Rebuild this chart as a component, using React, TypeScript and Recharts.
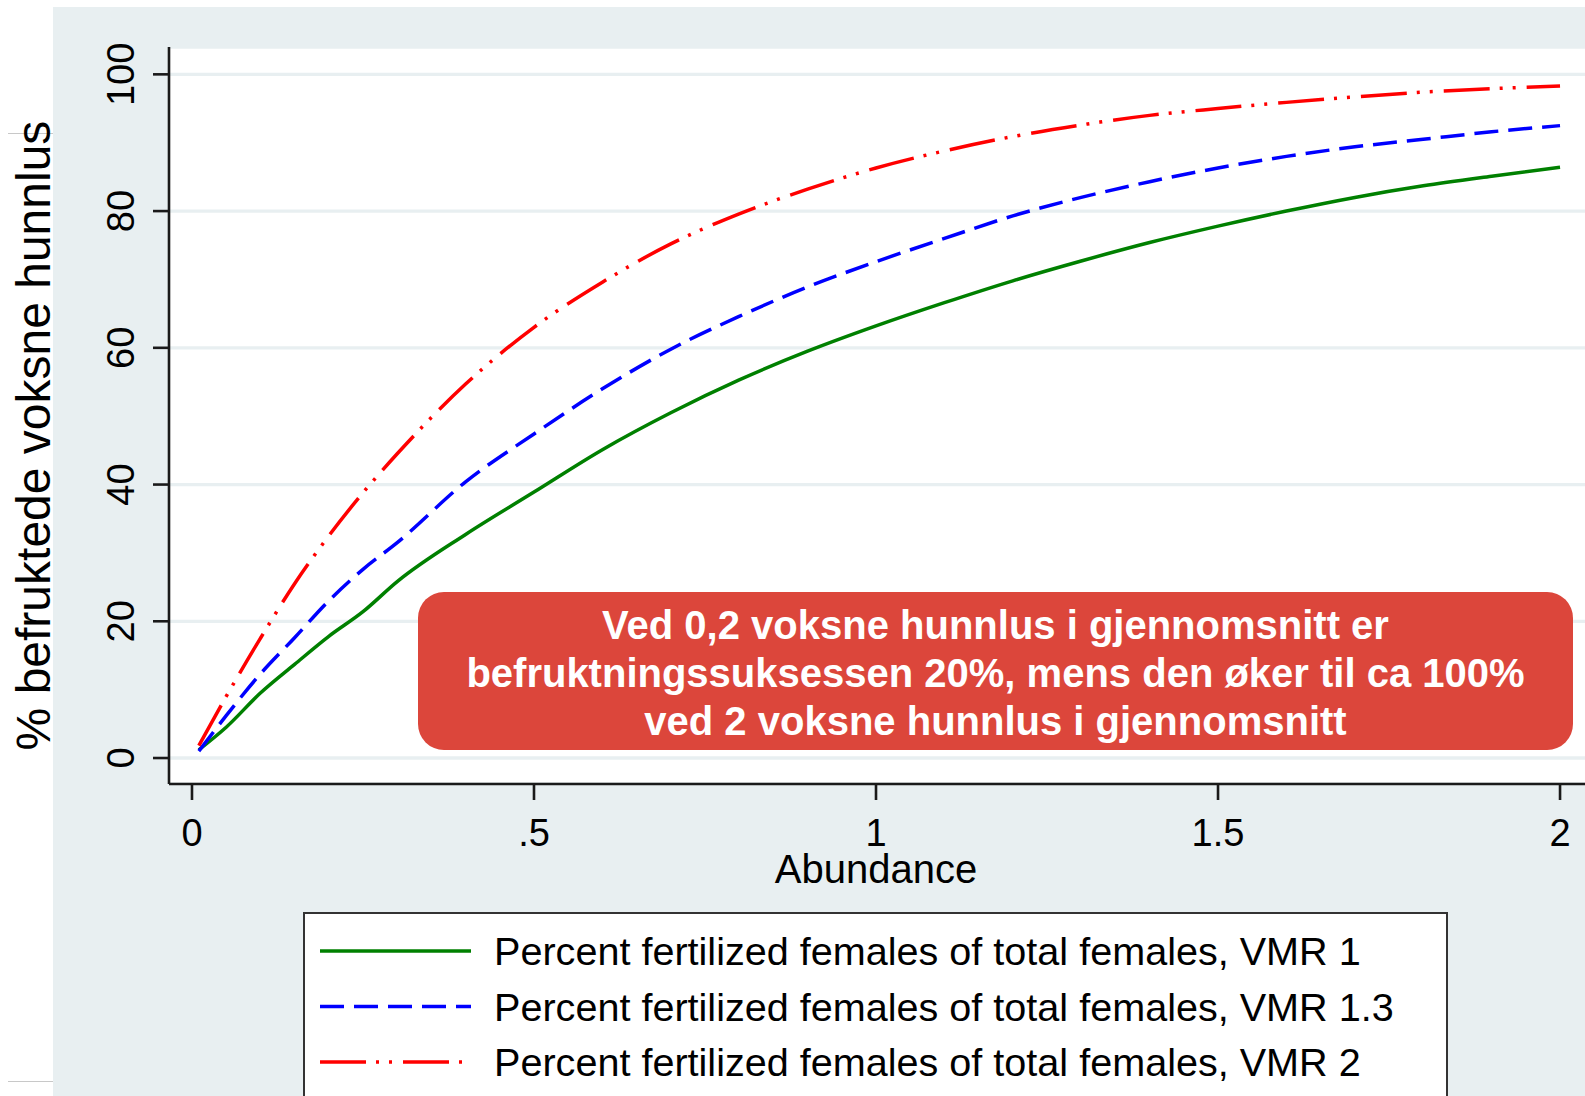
import React from 'react';
import { LineChart, Line, XAxis, YAxis, CartesianGrid, Legend } from 'recharts';

// ---- data ----
const abundance = [0.01, 0.05, 0.1, 0.15, 0.2, 0.25, 0.3, 0.4, 0.5, 0.6, 0.7, 0.8, 0.9, 1.0, 1.1, 1.2, 1.3, 1.4, 1.5, 1.6, 1.7, 1.8, 1.9, 2.0];
const vmr1 = [1.2, 4.5, 9.5, 13.7, 17.8, 21.4, 25.8, 32.7, 38.9, 45.1, 50.5, 55.3, 59.5, 63.2, 66.6, 69.8, 72.7, 75.4, 77.8, 80.0, 82.0, 83.7, 85.1, 86.4];
const vmr13 = [1.0, 6.2, 12.3, 17.6, 23.0, 27.6, 31.5, 40.4, 47.4, 54.0, 59.8, 64.6, 68.9, 72.6, 76.0, 79.3, 82.0, 84.3, 86.3, 88.0, 89.4, 90.5, 91.6, 92.5];
const vmr2 = [1.8, 9.0, 17.5, 25.5, 32.5, 38.8, 44.5, 54.7, 63.0, 69.6, 75.2, 79.6, 83.2, 86.3, 88.8, 90.9, 92.6, 94.0, 95.0, 95.9, 96.7, 97.4, 97.9, 98.3];

const xTicks = [0, 0.5, 1, 1.5, 2];
const xTickLabels = ['0', '.5', '1', '1.5', '2'];
const yTicks = [0, 20, 40, 60, 80, 100];
const yTickLabels = ['0', '20', '40', '60', '80', '100'];

const seriesNames = [
  'Percent fertilized females of total females, VMR 1',
  'Percent fertilized females of total females, VMR 1.3',
  'Percent fertilized females of total females, VMR 2',
];
const xTitle = 'Abundance';
const yTitle = '% befruktede voksne hunnlus';
const noteLines = [
  'Ved 0,2 voksne hunnlus i gjennomsnitt er',
  'befruktningssuksessen 20%, mens den øker til ca 100%',
  'ved 2 voksne hunnlus i gjennomsnitt',
];

const data = abundance.map((a, i) => ({ a, v1: vmr1[i], v13: vmr13[i], v2: vmr2[i] }));

// ---- style ----
const FONT = '"Liberation Sans", Arial, Helvetica, sans-serif';
const BG = '#e8eff1';
const GREEN = '#008000';
const BLUE = '#0000ff';
const RED = '#ff0000';
const SW = 3.5;
const DASH_BLUE = '24 10';
const DASH_RED = '46 10 3 10 3 11';

const styles = [
  { key: 'v1', color: GREEN, dash: undefined as string | undefined },
  { key: 'v13', color: BLUE, dash: DASH_BLUE },
  { key: 'v2', color: RED, dash: DASH_RED },
];

const XTick = (props: any) => {
  const { x, y, payload } = props;
  const idx = xTicks.indexOf(payload.value);
  return (
    <text x={x} y={y + 44} textAnchor="middle" fontFamily={FONT} fontSize={38} fill="#000">
      {idx >= 0 ? xTickLabels[idx] : String(payload.value)}
    </text>
  );
};

const YTick = (props: any) => {
  const { y, payload } = props;
  const idx = yTicks.indexOf(payload.value);
  return (
    <text transform={`translate(134, ${y}) rotate(-90)`} textAnchor="middle" fontFamily={FONT} fontSize={38} fill="#000">
      {idx >= 0 ? yTickLabels[idx] : String(payload.value)}
    </text>
  );
};

const LegendBox = () => (
  <div
    style={{
      width: 1145,
      height: 200,
      boxSizing: 'border-box',
      background: '#fff',
      border: '2px solid #333',
      position: 'relative',
    }}
  >
    <svg width={1145} height={200} style={{ position: 'absolute', left: -2, top: -2 }}>
      {styles.map((s, i) => {
        const cy = 39 + i * 55.5;
        return (
          <g key={s.key}>
            <line x1={17} x2={168} y1={cy} y2={cy} stroke={s.color} strokeWidth={SW} strokeDasharray={s.dash} />
            <text x={191} y={cy + 14} fontFamily={FONT} fontSize={39.6} fill="#000">
              {seriesNames[i]}
            </text>
          </g>
        );
      })}
    </svg>
  </div>
);

export default function App() {
  return (
    <div style={{ position: 'absolute', left: 0, top: 0, width: 1585, height: 1096, overflow: 'hidden', background: '#fff' }}>
      <div style={{ position: 'absolute', left: 53, top: 7, width: 1532, height: 1089, background: BG }} />
      <div style={{ position: 'absolute', left: 8, top: 133, width: 45, height: 1, background: '#c8c8c8' }} />
      <div style={{ position: 'absolute', left: 8, top: 1081, width: 45, height: 1, background: '#c8c8c8' }} />
      <div style={{ position: 'absolute', left: 0, top: 0 }}>
        <LineChart width={1585} height={1096} data={data} margin={{ top: 47, right: 0, bottom: 0, left: 0 }}>
          <CartesianGrid horizontal vertical={false} fill="#fff" stroke={BG} strokeWidth={3.3} />
          <XAxis
            dataKey="a"
            type="number"
            domain={[-0.0336, 2.0365]}
            allowDataOverflow
            ticks={xTicks}
            interval={0}
            height={312}
            tickSize={16}
            axisLine={{ stroke: '#1a1a1a', strokeWidth: 2.6 }}
            tickLine={{ stroke: '#1a1a1a', strokeWidth: 2.6 }}
            tick={<XTick />}
            label={{
              content: (p: any) => {
                const vb = p.viewBox || {};
                return (
                  <text x={876} y={(vb.y ?? 784) + 99} textAnchor="middle" fontFamily={FONT} fontSize={40} fill="#000">
                    {xTitle}
                  </text>
                );
              },
            }}
          />
          <YAxis
            type="number"
            domain={[-3.8, 104.0]}
            allowDataOverflow
            ticks={yTicks}
            interval={0}
            width={169}
            tickSize={16}
            axisLine={{ stroke: '#1a1a1a', strokeWidth: 2.6 }}
            tickLine={{ stroke: '#1a1a1a', strokeWidth: 2.6 }}
            tick={<YTick />}
            label={{
              content: () => (
                <text transform="translate(50, 435.5) rotate(-90)" textAnchor="middle" fontFamily={FONT} fontSize={48} fill="#000">
                  {yTitle}
                </text>
              ),
            }}
          />
          {styles.map((s, i) => (
            <Line
              key={s.key}
              dataKey={s.key}
              name={seriesNames[i]}
              type="monotone"
              stroke={s.color}
              strokeWidth={SW}
              strokeDasharray={s.dash}
              dot={false}
              activeDot={false}
              isAnimationActive={false}
            />
          ))}
          <Legend
            layout="vertical"
            align="center"
            verticalAlign="middle"
            content={<LegendBox />}
            wrapperStyle={{ position: 'absolute', left: 303, top: 912, width: 1145, height: 200 }}
          />
        </LineChart>
      </div>
      <div
        style={{
          position: 'absolute',
          left: 418,
          top: 592,
          width: 1155,
          height: 158,
          background: '#dc463b',
          borderRadius: 26,
          fontFamily: FONT,
          fontWeight: 'bold',
          fontSize: 40,
          color: '#fff',
          textAlign: 'center',
          lineHeight: '48px',
          paddingTop: 9,
          boxSizing: 'border-box',
        }}
      >
        {noteLines.map((l, i) => (
          <div key={i}>{l}</div>
        ))}
      </div>
    </div>
  );
}
